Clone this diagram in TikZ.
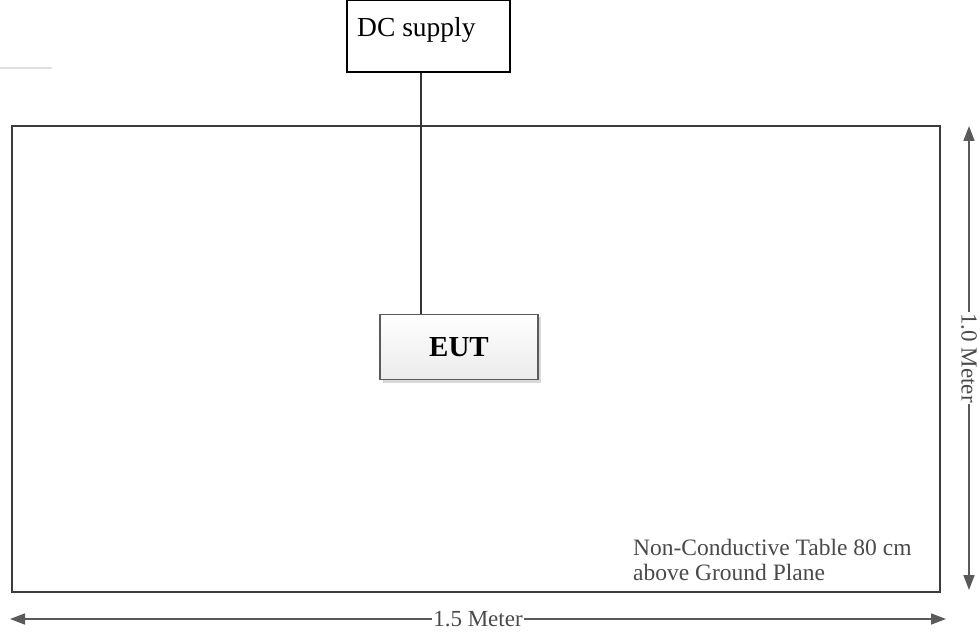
\documentclass[tikz,border=0pt]{standalone}
\usepackage{fontspec}
\setmainfont{Liberation Serif}
\usetikzlibrary{arrows.meta,shadows}
\definecolor{linegray}{HTML}{5A5A5A}
\definecolor{tablegray}{HTML}{3C3C3C}
\definecolor{textgray}{HTML}{4A4A4A}
\tikzset{
  dimarrow/.style={draw=linegray, line width=1.6pt, {Triangle[length=15pt,width=11pt]}-{Triangle[length=15pt,width=11pt]}},
  dimlabel/.style={fill=white, inner sep=1pt, text=textgray, font=\fontsize{23}{26}\selectfont},
  plainbox/.style={draw=black, line width=1.5pt, fill=white},
  eutbox/.style={draw=linegray, line width=1.5pt, top color=white, bottom color=black!8,
    drop shadow={shadow xshift=3pt, shadow yshift=-3pt, fill=black!25, opacity=0.6}},
}
\begin{document}
\begin{tikzpicture}[x=1pt,y=-1pt]
\useasboundingbox (0,0) rectangle (980,636);
\fill[white] (0,0) rectangle (980,636);
% faint artifact line
\draw[black!12, line width=1.2pt] (0,68) -- (52,68);
% table
\node (table) [draw=tablegray, line width=2.6pt, minimum width=928pt, minimum height=466pt, inner sep=0pt] at (476,359) {};
% DC supply
\node (dc) [plainbox, minimum width=163pt, minimum height=72pt, inner sep=0pt] at (428.5,36) {};
\node (dclabel) [anchor=base west, inner sep=0pt, font=\fontsize{27.5}{30}\selectfont] at (357,37) {DC supply};
% EUT
\node (eut) [eutbox, minimum width=158pt, minimum height=65pt, inner sep=0pt, font=\bfseries\fontsize{29}{32}\selectfont] at (459,347) {EUT};
% connector
\draw[black!80, line width=1.5pt] ([xshift=-7.5pt]dc.south) -- ([xshift=-7.5pt]dc.south |- eut.north);
% table note
\node (note1) [anchor=base west, inner sep=0pt, text=textgray, font=\fontsize{23.5}{26}\selectfont] at (633,555) {Non-Conductive Table 80 cm};
\node (note2) [anchor=base west, inner sep=0pt, text=textgray, font=\fontsize{23.5}{26}\selectfont] at (633,580) {above Ground Plane};
% dimension arrows
\coordinate (hl) at (10,619);
\coordinate (hr) at (946,619);
\draw[dimarrow] (hl) -- (hr) node[dimlabel, pos=0.5] (hlab) {1.5 Meter};
\coordinate (vt) at (969,126);
\coordinate (vb) at (969,590);
\draw[dimarrow] (vt) -- (vb) node[dimlabel, pos=0.5, rotate=-90] (vlab) {1.0 Meter};
\end{tikzpicture}
\end{document}
